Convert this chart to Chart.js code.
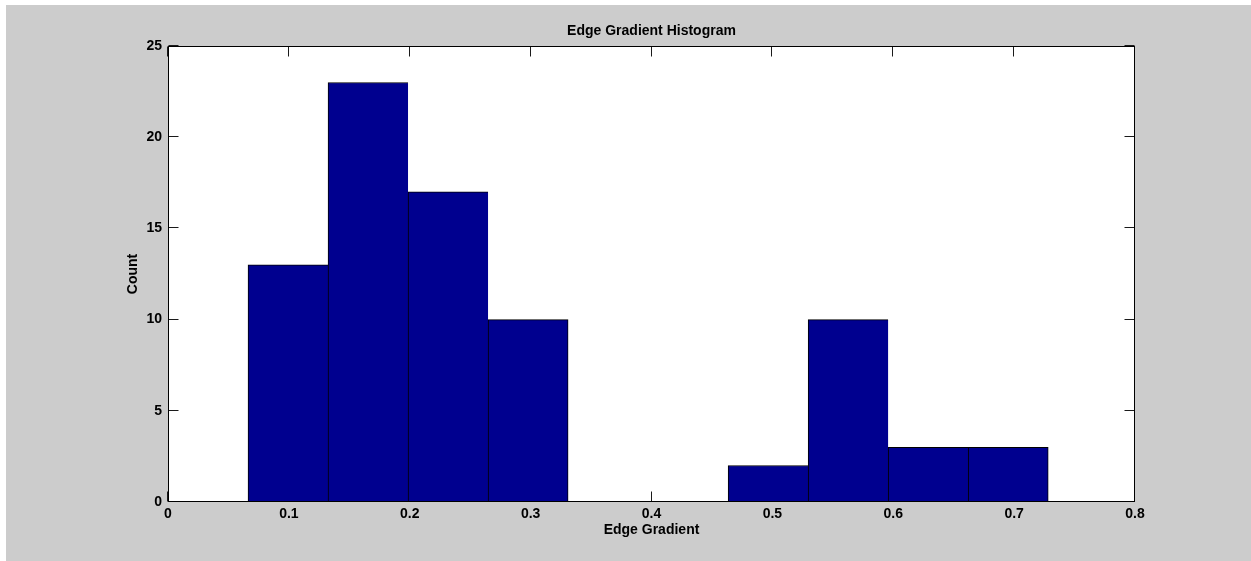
<!DOCTYPE html>
<html>
<head>
<meta charset="utf-8">
<script src="https://cdn.jsdelivr.net/npm/chart.js@4/dist/chart.umd.min.js"></script>
<style>
  html, body { margin: 0; padding: 0; background: #ffffff; }
  #wrap { position: absolute; left: 6px; top: 5px; width: 1245px; height: 556px; background: #cccccc; }
  canvas { display: block; }
</style>
</head>
<body>
<div id="wrap"><canvas id="c" width="1245" height="556"></canvas></div>
<script>
// Histogram bins: centres of each bin and the number of samples in it
const binCenters = [0.0993, 0.1655, 0.2317, 0.2979, 0.3641, 0.4303, 0.4965, 0.5627, 0.6289, 0.6951];
const counts     = [13, 23, 17, 10, 0, 0, 2, 10, 3, 3];

// Axis tick values
const xTicks = [0, 0.1, 0.2, 0.3, 0.4, 0.5, 0.6, 0.7, 0.8];
const yTicks = [0, 5, 10, 15, 20, 25];

const titleText = 'Edge Gradient Histogram';
const xLabel = 'Edge Gradient';
const yLabel = 'Count';

const FONT = 'Liberation Sans, Arial, Helvetica, sans-serif';
const font14 = { family: FONT, size: 14, weight: 'bold' };

// Axes box with inward tick marks on all four sides (ticks drawn beneath the bars)
const axesBox = {
  id: 'axesBox',
  beforeDatasetsDraw(chart) {
    const { ctx, chartArea: a, scales } = chart;
    const L = a.left + 0.5, R = a.right - 0.5, T = a.top + 0.5, B = a.bottom - 0.5;
    ctx.save();
    ctx.fillStyle = '#ffffff';
    ctx.fillRect(a.left, a.top, a.right - a.left, a.bottom - a.top);
    ctx.strokeStyle = '#1a1a1a';
    ctx.lineWidth = 1;
    ctx.beginPath();
    xTicks.forEach(v => {
      const x = Math.round(scales.x.getPixelForValue(v)) - 0.5;
      ctx.moveTo(x, T); ctx.lineTo(x, T + 10);
      ctx.moveTo(x, B); ctx.lineTo(x, B - 10);
    });
    yTicks.forEach(v => {
      const y = Math.round(scales.y.getPixelForValue(v)) - 0.5;
      ctx.moveTo(L, y); ctx.lineTo(L + 10, y);
      ctx.moveTo(R, y); ctx.lineTo(R - 10, y);
    });
    ctx.stroke();
    ctx.restore();
  },
  afterDatasetsDraw(chart) {
    const { ctx, chartArea: a } = chart;
    ctx.save();
    ctx.strokeStyle = '#000000';
    ctx.lineWidth = 1;
    ctx.strokeRect(a.left + 0.5, a.top + 0.5, a.right - a.left - 1, a.bottom - a.top - 1);
    ctx.restore();
  }
};

new Chart(document.getElementById('c'), {
  type: 'bar',
  data: {
    datasets: [{
      data: binCenters.map((x, i) => ({ x: x, y: counts[i] })),
      backgroundColor: '#00008f',
      borderColor: '#000000',
      borderSkipped: false,
      borderWidth: (c) => {
        const i = c.dataIndex;
        const lastInRun = i === counts.length - 1 || counts[i + 1] === 0;
        return { top: 1, left: 1, right: lastInRun ? 1 : 0, bottom: 0 };
      },
      barPercentage: 1,
      categoryPercentage: 1
    }]
  },
  options: {
    responsive: false,
    animation: false,
    devicePixelRatio: 1,
    layout: { padding: { left: 0, top: 0, right: 116, bottom: 0 } },
    plugins: {
      legend: { display: false },
      tooltip: { enabled: false },
      title: {
        display: true,
        fullSize: false,
        text: titleText,
        color: '#000000',
        font: font14,
        padding: { top: 17.6, bottom: 6.6 }
      }
    },
    scales: {
      x: {
        type: 'linear',
        min: 0,
        max: 0.8,
        offset: false,
        afterBuildTicks: (s) => { s.ticks = xTicks.map(v => ({ value: v })); },
        afterFit: (s) => { s.height = 59; },
        grid: { display: false, drawTicks: false },
        border: { display: false },
        ticks: {
          color: '#000000',
          font: font14,
          padding: 4,
          maxRotation: 0,
          autoSkip: false,
          callback: (v) => String(Number(Number(v).toFixed(2)))
        },
        title: {
          display: true,
          text: xLabel,
          color: '#000000',
          font: font14,
          padding: { top: 0, bottom: 22.6 }
        }
      },
      y: {
        min: 0,
        max: 25,
        afterBuildTicks: (s) => { s.ticks = yTicks.map(v => ({ value: v })); },
        afterFit: (s) => { s.width = 162; },
        grid: { display: false, drawTicks: false },
        border: { display: false },
        ticks: {
          color: '#000000',
          font: font14,
          padding: 6,
          autoSkip: false
        },
        title: {
          display: true,
          text: yLabel,
          color: '#000000',
          font: font14,
          padding: { top: 118.6, bottom: 0 }
        }
      }
    }
  },
  plugins: [axesBox]
});
</script>
</body>
</html>
